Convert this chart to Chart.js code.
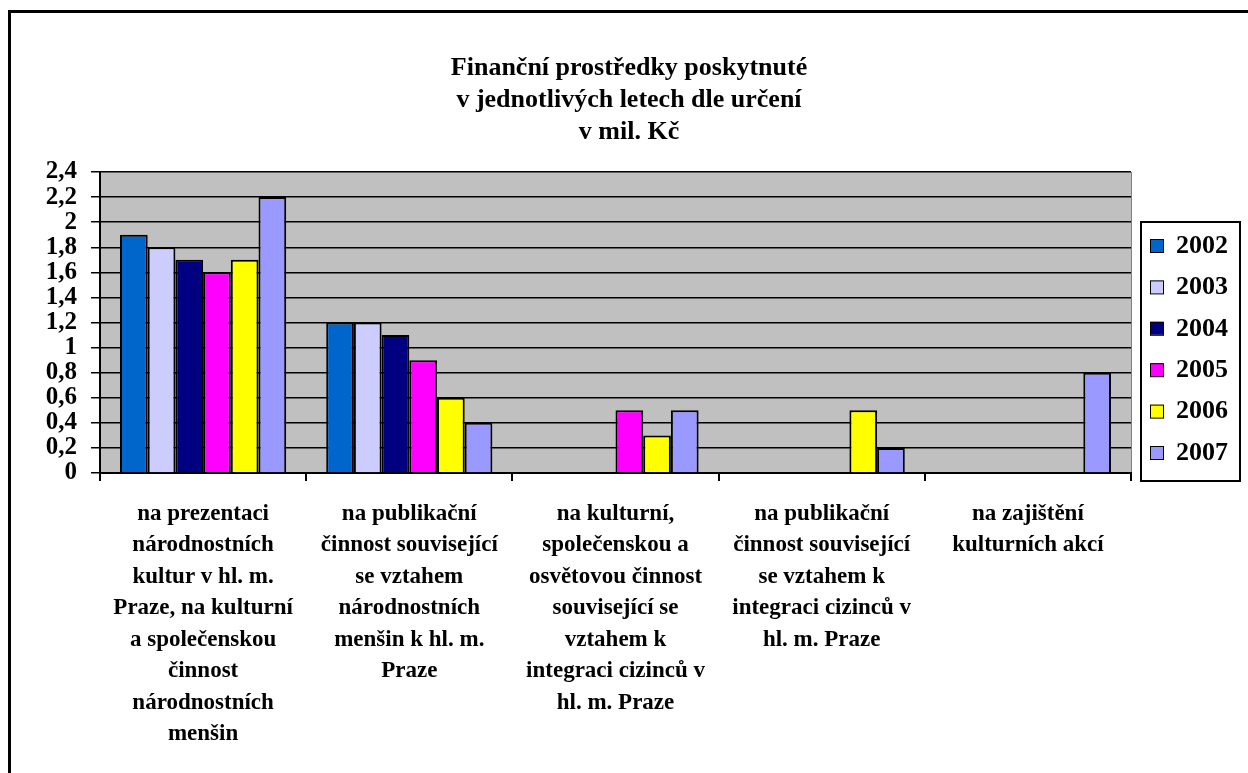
<!DOCTYPE html>
<html>
<head>
<meta charset="utf-8">
<script src="https://cdn.jsdelivr.net/npm/chart.js@4"></script>
<style>
  html, body { margin: 0; padding: 0; background: #fff; }
  #wrap { position: relative; width: 1248px; height: 773px; overflow: hidden; }
  #frame { position: absolute; left: 8px; top: 10px; width: 1300px; height: 800px;
           border-top: 3px solid #000; border-left: 3px solid #000; pointer-events: none; }
  canvas { position: absolute; left: 0; top: 0; }
</style>
</head>
<body>
<div id="wrap">
  <canvas id="chart" width="1248" height="773"></canvas>
  <div id="frame"></div>
</div>
<script>
const categories = [
    ['na prezentaci', 'národnostních', 'kultur v hl. m.', 'Praze, na kulturní', 'a společenskou', 'činnost', 'národnostních', 'menšin'],
    ['na publikační', 'činnost související', 'se vztahem', 'národnostních', 'menšin k hl. m.', 'Praze'],
    ['na kulturní,', 'společenskou a', 'osvětovou činnost', 'související se', 'vztahem k', 'integraci cizinců v', 'hl. m. Praze'],
    ['na publikační', 'činnost související', 'se vztahem k', 'integraci cizinců v', 'hl. m. Praze'],
    ['na zajištění', 'kulturních akcí']
];
const years = ['2002', '2003', '2004', '2005', '2006', '2007'];
const v2002 = [1.9, 1.2, null, null, null];
const v2003 = [1.8, 1.2, null, null, null];
const v2004 = [1.7, 1.1, null, null, null];
const v2005 = [1.6, 0.9, 0.5, null, null];
const v2006 = [1.7, 0.6, 0.3, 0.5, null];
const v2007 = [2.2, 0.4, 0.5, 0.2, 0.8];
const titleLines = ['Finanční prostředky poskytnuté', 'v jednotlivých letech dle určení', 'v mil. Kč'];

const colors = ['#0066cc', '#ccccff', '#000080', '#ff00ff', '#ffff00', '#9999ff'];
const seriesValues = [v2002, v2003, v2004, v2005, v2006, v2007];
const FONT = "'Liberation Serif', 'Times New Roman', serif";

// seda plocha grafu
const plotBackground = {
    id: 'plotBackground',
    beforeDraw(chart) {
        const a = chart.chartArea;
        const ctx = chart.ctx;
        ctx.save();
        ctx.fillStyle = '#c0c0c0';
        ctx.fillRect(a.left, a.top, a.right - a.left, a.bottom - a.top);
        ctx.strokeStyle = '#808080';
        ctx.lineWidth = 1;
        ctx.beginPath();
        ctx.moveTo(a.right + 0.5, a.top);
        ctx.lineTo(a.right + 0.5, a.bottom);
        ctx.stroke();
        ctx.restore();
    }
};

// legenda v rameckem vpravo
const boxLegend = {
    id: 'boxLegend',
    afterDraw(chart) {
        const ctx = chart.ctx;
        const a = chart.chartArea;
        const left = a.right + 10;
        const top = 222;
        const w = 99, h = 259;
        ctx.save();
        ctx.fillStyle = '#fff';
        ctx.fillRect(left, top, w, h);
        ctx.strokeStyle = '#000';
        ctx.lineWidth = 2;
        ctx.strokeRect(left, top, w, h);
        ctx.font = 'bold 26px ' + FONT;
        ctx.textBaseline = 'middle';
        chart.data.datasets.forEach((ds, i) => {
            const y = top + 23 + i * 41.4;
            ctx.fillStyle = ds.backgroundColor;
            ctx.fillRect(left + 9, y - 6, 13, 13);
            ctx.lineWidth = 1;
            ctx.strokeStyle = '#000';
            ctx.strokeRect(left + 9.5, y - 5.5, 13, 13);
            ctx.fillStyle = '#000';
            ctx.fillText(ds.label, left + 35, y + 1);
        });
        ctx.restore();
    }
};

const ctx = document.getElementById('chart').getContext('2d');
const chart = new Chart(ctx, {
    type: 'bar',
    data: {
        labels: categories,
        datasets: years.map((y, i) => ({
            label: y,
            data: seriesValues[i],
            backgroundColor: colors[i],
            borderColor: '#000',
            borderWidth: 2,
            borderSkipped: 'bottom',
            barPercentage: 1,
            categoryPercentage: 0.806
        }))
    },
    plugins: [plotBackground, boxLegend],
    options: {
        responsive: false,
        devicePixelRatio: 1,
        animation: false,
        layout: { padding: { left: 10, right: 0, top: 0, bottom: 0 } },
        plugins: {
            legend: { display: false },
            tooltip: { enabled: false },
            title: {
                display: true,
                text: titleLines,
                color: '#000',
                font: { family: FONT, size: 26, weight: 'bold', lineHeight: 32 / 26 },
                padding: { top: 52, bottom: 24 }
            }
        },
        scales: {
            x: {
                grid: {
                    display: true,
                    offset: true,
                    drawOnChartArea: false,
                    drawTicks: true,
                    tickLength: 8,
                    color: '#000',
                    lineWidth: 2
                },
                border: { display: true, color: '#000', width: 2 },
                ticks: {
                    color: '#000',
                    maxRotation: 0,
                    autoSkip: false,
                    padding: 17,
                    font: { family: FONT, size: 23, weight: 'bold', lineHeight: 31.5 / 23 }
                },
                afterFit(scale) { scale.height = 300; }
            },
            y: {
                min: 0,
                max: 2.4,
                ticks: {
                    stepSize: 0.2,
                    autoSkip: false,
                    color: '#000',
                    padding: 14,
                    font: { family: FONT, size: 25, weight: 'bold' },
                    callback: v => String(Math.round(v * 10) / 10).replace('.', ',')
                },
                grid: { color: '#000', lineWidth: 1.5, tickLength: 9 },
                border: { display: true, color: '#000', width: 2 },
                afterFit(scale) { scale.width = 90; }
            },
            legendSpace: {
                type: 'linear',
                position: 'right',
                display: true,
                grid: { display: false },
                border: { display: false },
                ticks: { display: false },
                afterFit(scale) { scale.width = 117; }
            }
        }
    }
});
</script>
</body>
</html>
